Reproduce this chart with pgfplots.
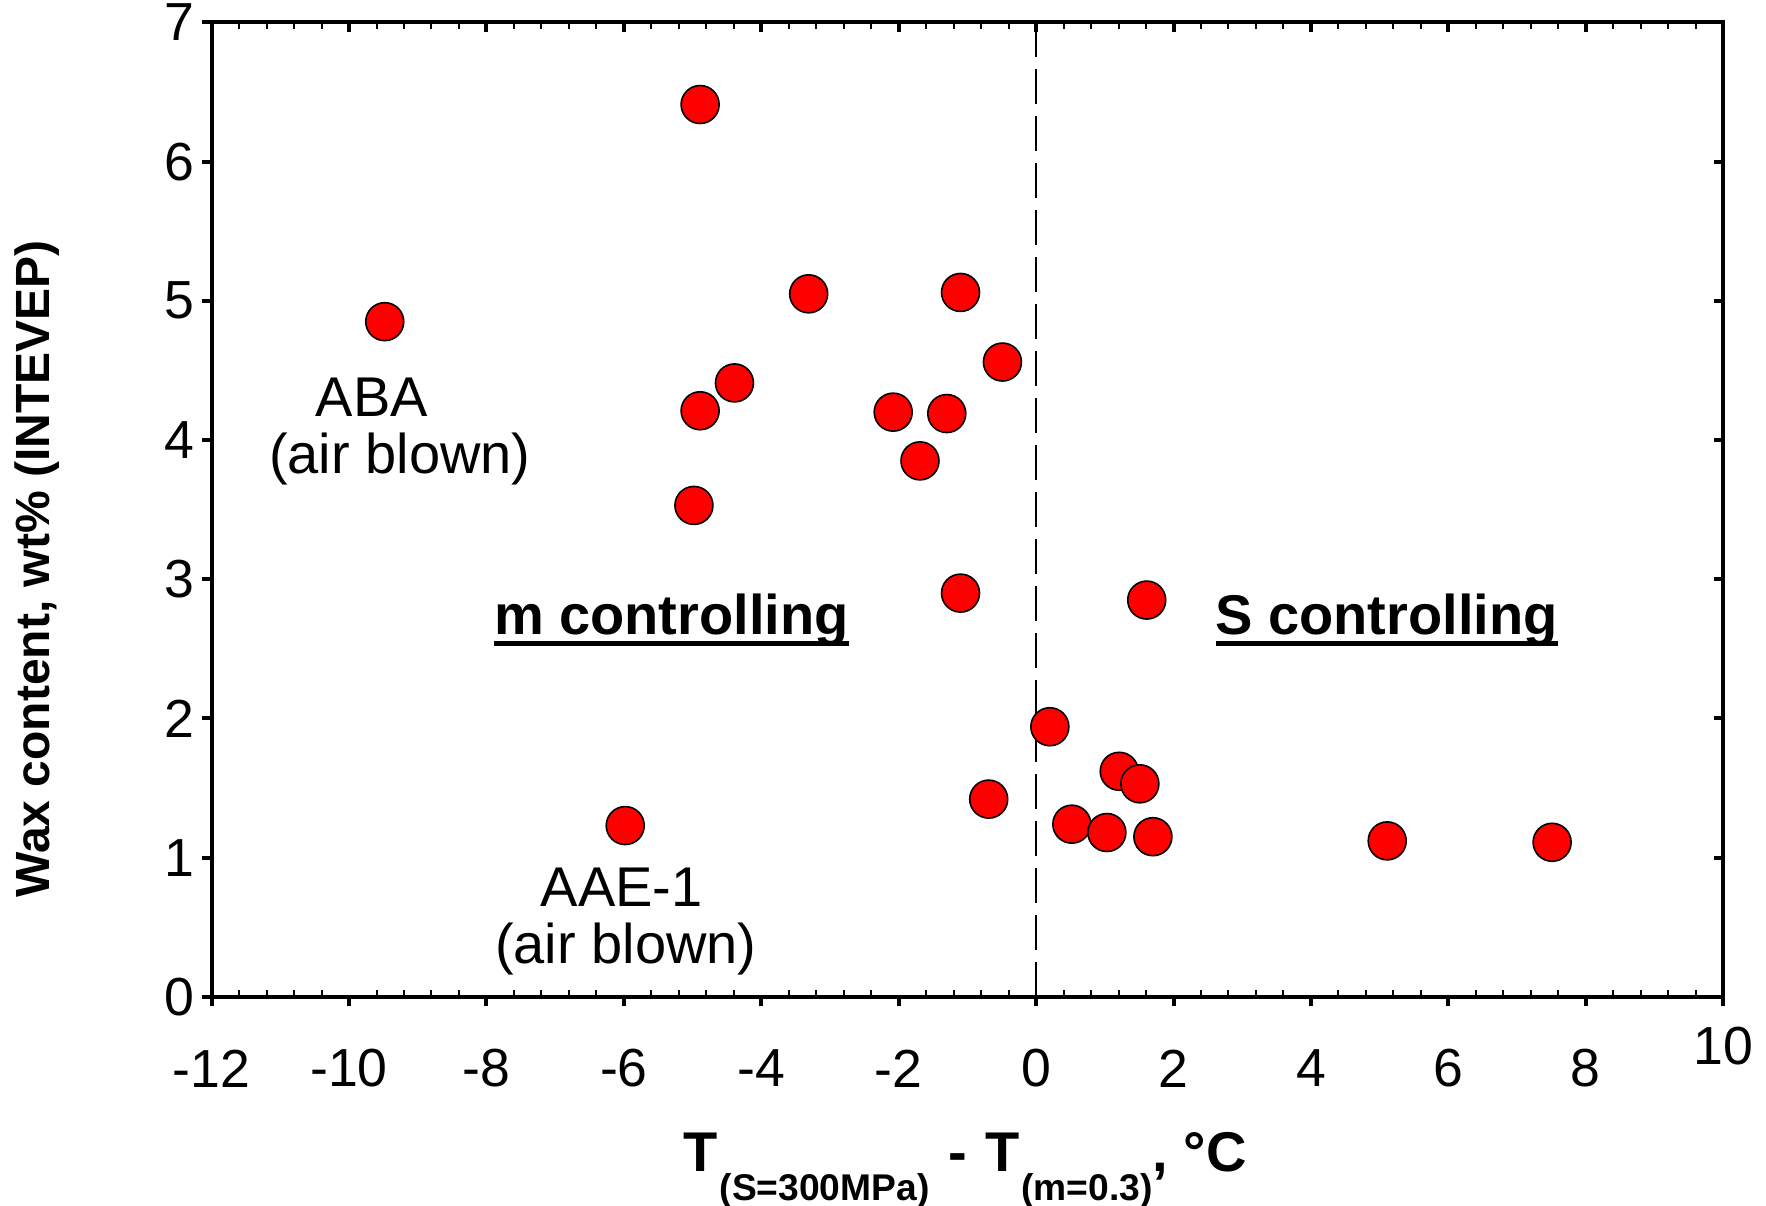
\documentclass[border=0pt]{standalone}
\usepackage{fontspec}
\setmainfont{Liberation Sans}
\usepackage{pgfplots}
\pgfplotsset{compat=1.18}
\newcommand\thickul[1]{\setbox0\hbox{#1}\rlap{\rule[-2.9pt]{\wd0}{1.4pt}}\box0}
\begin{document}
\begin{tikzpicture}
\useasboundingbox (-52.9pt,-52.3pt) rectangle (388.6pt,249.2pt);
\pgfplotsset{
 base/.style={scale only axis, width=377.9pt, height=243.6pt,
   xmin=-12, xmax=10, ymin=0, ymax=7, at={(0,0)}, anchor=south west},
}
% minor ticks bottom, inside
\begin{axis}[base, axis line style={draw=none}, xtick pos=bottom, ytick=\empty,
  xtick={-12,-10,...,10}, xticklabels={}, major tick length=0pt,
  minor x tick num=4, tick align=inside, minor tick length=1.6pt,
  minor tick style={black, line width=0.5pt}]
\end{axis}
% top/right ticks inside
\begin{axis}[base, axis line style={draw=none}, xtick pos=top, ytick pos=right,
  xtick={-12,-10,...,10}, ytick={0,...,7}, xticklabels={}, yticklabels={},
  minor x tick num=4, tick align=inside, major tick length=2.4pt, minor tick length=1.6pt,
  major tick style={black, line width=1pt}, minor tick style={black, line width=0.5pt}]
\end{axis}
% main
\begin{axis}[base, axis line style={line width=1pt},
  xtick={-12,-10,...,8}, xticklabels={-12,-10,-8,-6,-4,-2,0,2,4,6,8},
  extra x ticks={10}, extra x tick labels={10},
  extra x tick style={xticklabel style={yshift=5.6pt}},
  ytick={0,...,7}, yticklabels={0,1,2,3,4,5,6,7},
  xtick pos=bottom, ytick pos=left, tick align=outside,
  major tick length=2.4pt, tick style={black, line width=1pt},
  tick label style={font=\fontsize{13.4}{16}\selectfont},
  xticklabel style={anchor=center, yshift=-15.5pt},
  yticklabel style={xshift=1.7pt},
  /pgf/number format/assume math mode=true,
  xlabel={\fontsize{14}{16}\selectfont\bfseries T\kern0.4pt\raisebox{-7.3pt}{\fontsize{9.3}{11}\selectfont(S=300MPa)}\kern0.8pt\ -\ \kern0.8pt T\kern0.4pt\raisebox{-7.3pt}{\fontsize{9.3}{11}\selectfont(m=0.3)}, °C},
  xlabel style={at={(axis description cs:0.4986,-0.179)}, anchor=base},
  ylabel={\fontsize{12}{14}\selectfont\bfseries Wax content, wt\% (INTEVEP)},
  ylabel style={at={(axis description cs:-0.1154,0.439)}, anchor=center, rotate=0},
  clip=false]
\addplot[black, line width=0.4pt, dash pattern=on 8.75pt off 3pt] coordinates {(0,0) (0,7)};
\addplot[only marks, mark=*, mark size=4.75pt, mark options={fill=red, draw=black, line width=0.4pt}] coordinates {
(-9.48,4.85) (-4.89,6.41) (-3.31,5.05) (-1.10,5.06) (-0.49,4.56)
(-4.39,4.41) (-4.89,4.21) (-2.08,4.20) (-1.30,4.19) (-1.69,3.85)
(-4.98,3.53) (-1.10,2.90) (1.61,2.85) (0.20,1.94) (1.21,1.62)
(1.51,1.53) (-0.69,1.42) (0.52,1.24) (1.03,1.18) (1.70,1.15)
(5.11,1.12) (7.51,1.11) (-5.98,1.23)
};
\node[font=\fontsize{14}{16}\selectfont] at (axis cs:-9.67,4.31) {ABA};
\node[font=\fontsize{14}{16}\selectfont] at (axis cs:-9.26,3.86) {(air blown)};
\node[font=\fontsize{14}{16}\selectfont] at (axis cs:-6.03,0.79) {AAE-1};
\node[font=\fontsize{14}{16}\selectfont] at (axis cs:-5.97,0.34) {(air blown)};
\node[font=\fontsize{14}{16}\selectfont\bfseries, anchor=base west, inner sep=0pt] at (axis cs:-7.90,2.60) {\thickul{m controlling}};
\node[font=\fontsize{14}{16}\selectfont\bfseries, anchor=base west, inner sep=0pt] at (axis cs:2.60,2.60) {\thickul{S controlling}};
\end{axis}
\end{tikzpicture}
\end{document}
